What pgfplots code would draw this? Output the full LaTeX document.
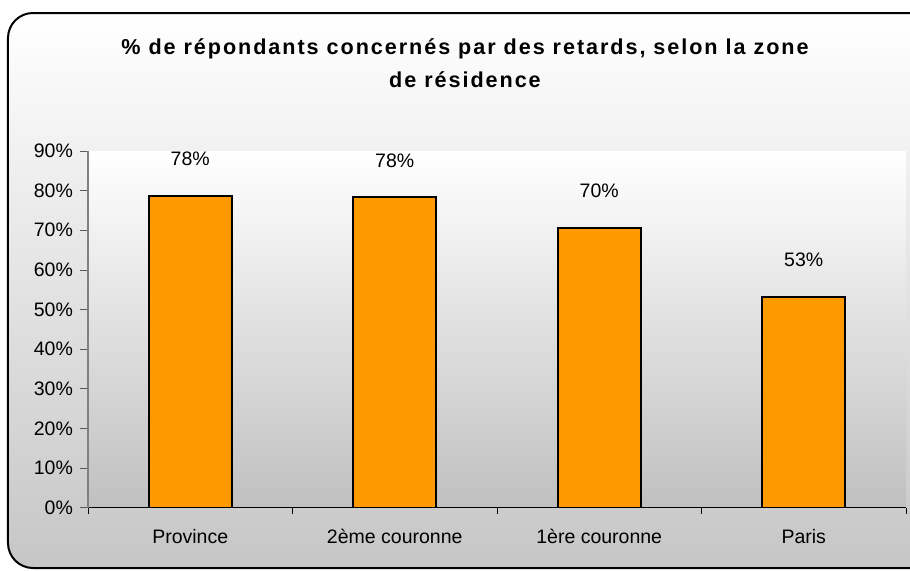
\documentclass[border=0pt]{standalone}
\usepackage{fontspec}
\setmainfont{Liberation Sans}
\usepackage{pgfplots}
\pgfplotsset{compat=1.18}
\definecolor{barorange}{HTML}{FF9900}
\definecolor{plotbot}{HTML}{C0C0C0}
\definecolor{framebot}{HTML}{C6C6C6}
\begin{document}
\begin{tikzpicture}[font=\fontsize{9.75}{11.7}\selectfont]
\clip (-44pt,-31.25pt) rectangle (411pt,253.75pt);
\draw[line width=1pt, rounded corners=12.5pt, top color=white, bottom color=framebot] (-40pt,-30.25pt) rectangle (430pt,247.25pt);
\begin{axis}[
  scale only axis, width=409pt, height=178.25pt,
  ymin=0, ymax=90, xmin=-0.5, xmax=3.5,
  /pgf/number format/assume math mode=true,
  ytick={0,10,...,90},
  yticklabel={\pgfmathprintnumber{\tick}\%},
  xtick={0,1,2,3},
  xticklabels={Province, 2ème couronne, 1ère couronne, Paris},
  xticklabel style={yshift=-3.5pt},
  minor xtick={-0.5,0.5,1.5,2.5,3.5},
  major x tick style={draw=none},
  minor x tick style={draw=black},
  y tick style={draw=gray!70!black},
  tick align=outside, major tick length=4pt, minor tick length=3pt,
  axis lines*=left,
  x axis line style={black, line width=0.6pt},
  y axis line style={gray, line width=0.6pt},
  axis background/.style={top color=white, bottom color=plotbot},
  ybar, bar width=41.5pt,
  point meta=explicit,
  nodes near coords={\pgfmathprintnumber{\pgfplotspointmeta}\%},
  every node near coord/.append style={anchor=center, yshift=18.5pt, font=\fontsize{9.75}{11.7}\selectfont},
]
\addplot[fill=barorange, draw=black, line width=0.9pt] coordinates {
  (0,78.7) [78]
  (1,78.3) [78]
  (2,70.5) [70]
  (3,53.2) [53]
};
\end{axis}
\node[font=\fontsize{10.8}{16.5}\selectfont\bfseries\addfontfeatures{LetterSpace=9}, align=center] at (188.5pt,222pt)
  {\% de répondants concernés par des retards, selon la zone\\de résidence};
\end{tikzpicture}
\end{document}
